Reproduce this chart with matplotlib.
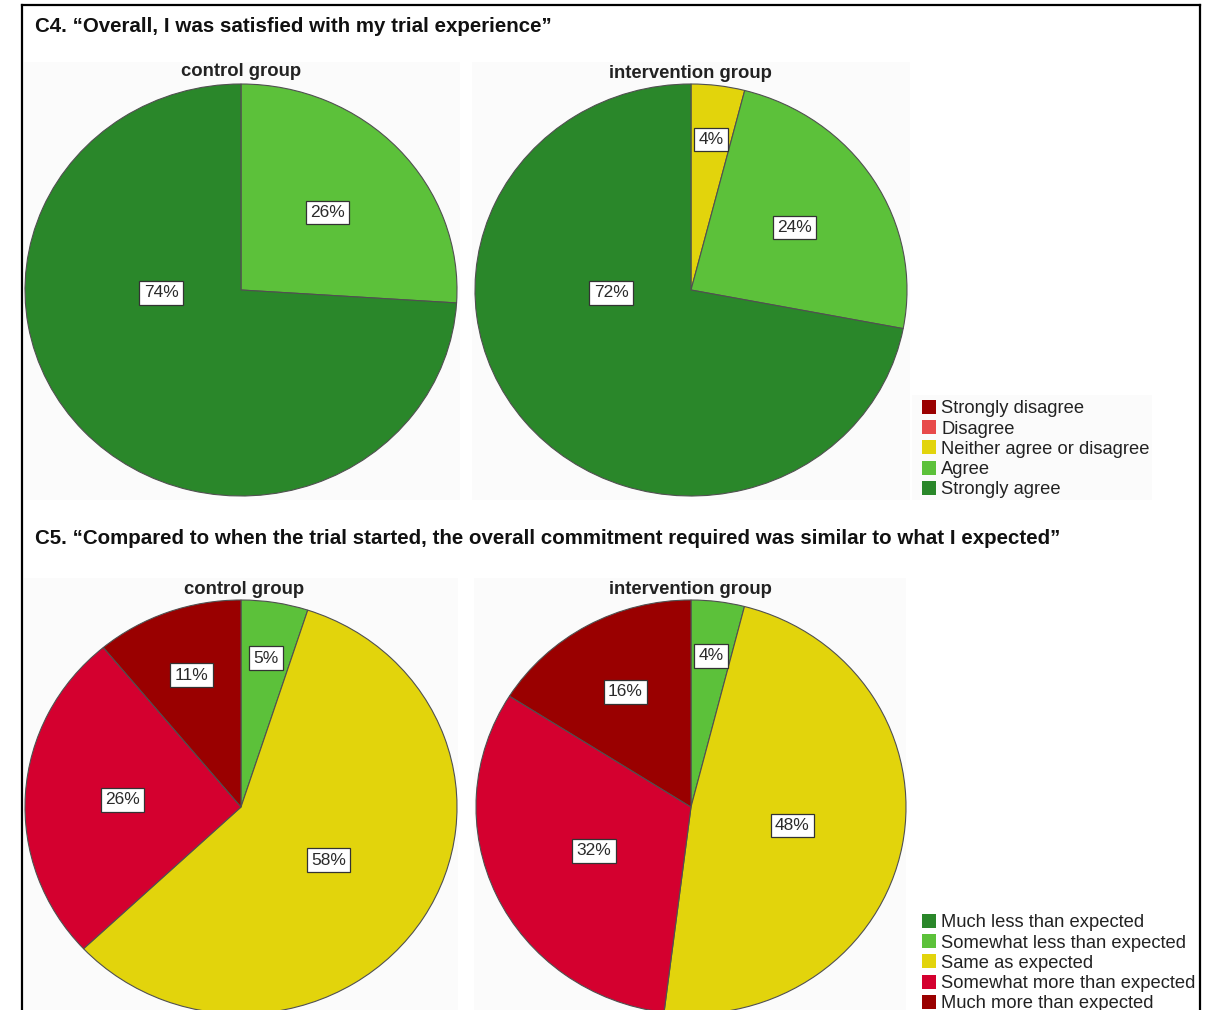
import math
import matplotlib
matplotlib.use("Agg")
import matplotlib.pyplot as plt
from matplotlib.patches import Patch, Rectangle
from matplotlib.lines import Line2D

# ---------------- data ----------------
c4_title = "C4. \u201cOverall, I was satisfied with my trial experience\u201d"
c5_title = "C5. \u201cCompared to when the trial started, the overall commitment required was similar to what I expected\u201d"
groups = ["control group", "intervention group"]

c4_categories = ["Strongly disagree", "Disagree", "Neither agree or disagree", "Agree", "Strongly agree"]
c4_control = [0, 0, 0, 26, 74]
c4_intervention = [0, 0, 4, 24, 72]

c5_categories = ["Much less than expected", "Somewhat less than expected", "Same as expected",
                 "Somewhat more than expected", "Much more than expected"]
c5_control = [0, 5, 58, 26, 11]
c5_intervention = [0, 4, 48, 32, 16]

# ---------------- style ----------------
c4_colors = ["#9a0000", "#e84a4a", "#e2d40c", "#5cc13a", "#2a872a"]
c5_colors = ["#2a872a", "#5cc13a", "#e2d40c", "#d4002f", "#9a0000"]

W, H = 1218, 1010
fig = plt.figure(figsize=(W / 100, H / 100), dpi=100)
fig.patch.set_facecolor("white")

BASE = ["Liberation Sans", "DejaVu Sans"]


def px_axes(cx, cy, rx, ry):
    ax = fig.add_axes([(cx - rx) / W, 1 - (cy + ry) / H, 2 * rx / W, 2 * ry / H])
    ax.set_zorder(2)
    return ax


def draw_pie(cx, cy, rx, ry, values, colors):
    ax = px_axes(cx, cy, rx, ry)
    vals = [v for v in values if v > 0]
    cols = [c for v, c in zip(values, colors) if v > 0]
    wedges, _ = ax.pie(vals, colors=cols, startangle=90, counterclock=False, radius=1,
                       wedgeprops=dict(edgecolor="#505050", linewidth=0.8))
    total = float(sum(vals))
    for w, v in zip(wedges, vals):
        f = v / total
        if f > 0.6:
            ang = 182.0
            d = 0.37
        else:
            ang = (w.theta1 + w.theta2) / 2.0
            d = max(0.48, 0.77 - 0.85 * f)
        x = d * math.cos(math.radians(ang))
        y = d * math.sin(math.radians(ang))
        ax.text(x, y, f"{v:.0f}%", ha="center", va="center", fontsize=12.5,
                family=BASE, color="#2a2a2a",
                bbox=dict(boxstyle="square,pad=0.25", fc="white", ec="#333333", lw=0.9))
    ax.set_xlim(-1, 1)
    ax.set_ylim(-1, 1)
    ax.set_aspect("auto")
    ax.axis("off")
    return ax


# faint panel backgrounds
for (x0, y0, x1, y1) in [(24, 62, 460, 500), (472, 62, 910, 500), (912, 395, 1152, 500),
                         (24, 578, 458, 1010), (474, 578, 906, 1010)]:
    fig.patches.append(Rectangle((x0 / W, 1 - y1 / H), (x1 - x0) / W, (y1 - y0) / H,
                                 transform=fig.transFigure, fc="#fbfbfb", ec="none", zorder=-5))

# pies (source image is slightly squashed vertically)
draw_pie(241, 290, 216, 206, c4_control, c4_colors)
draw_pie(691, 290, 216, 206, c4_intervention, c4_colors)
draw_pie(241, 807, 216, 207, c5_control, c5_colors)
draw_pie(691, 807, 215, 207, c5_intervention, c5_colors)

# titles
fig.text(35 / W, 1 - 27 / H, c4_title, ha="left", va="center", fontsize=14.8,
         fontweight="bold", family=BASE, color="#111111")
fig.text(35 / W, 1 - 538 / H, c5_title, ha="left", va="center", fontsize=14.8,
         fontweight="bold", family=BASE, color="#111111")

for (cx, cy), g in zip([(241, 72), (690, 73), (244, 590), (690, 590)], groups * 2):
    fig.text(cx / W, 1 - cy / H, g, ha="center", va="center", fontsize=13.3,
             fontweight="bold", family=BASE, color="#222222")


# legends
def add_legend(cats, colors, top_px):
    handles = [Patch(facecolor=c, edgecolor="none") for c in colors]
    leg = fig.legend(handles, cats, loc="upper left", bbox_to_anchor=(922 / W, 1 - top_px / H),
                     frameon=False, prop=dict(family=BASE, size=13.2),
                     handlelength=0.78, handleheight=0.8, handletextpad=0.28,
                     labelspacing=0.155, borderpad=0, borderaxespad=0)
    for t in leg.get_texts():
        t.set_color("#222222")


add_legend(c4_categories, c4_colors, 400)
add_legend(c5_categories, c5_colors, 914)

# outer frame (cut off at bottom)
for xs, ys in [([22, 22], [1010, 5]), ([22, 1200], [5, 5]), ([1200, 1200], [1010, 5])]:
    fig.lines.append(Line2D([x / W for x in xs], [1 - y / H for y in ys],
                            transform=fig.transFigure, color="black", lw=1.6, zorder=5))

fig.savefig("out.png", dpi=100)
